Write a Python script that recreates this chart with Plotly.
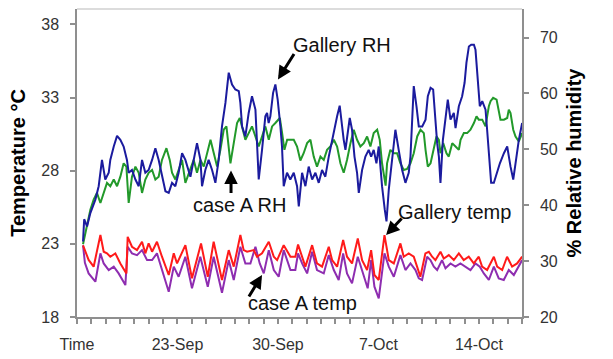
import plotly.graph_objects as go
import pandas as pd

START = pd.Timestamp("2008-09-16")

# ---- data (day offsets from 16-Sep, values) ----
gallery_rh_day = [0.42,0.50,0.70,0.93,1.28,1.51,1.74,1.97,2.21,2.32,2.56,2.79,3.02,3.25,3.48,3.60,3.83,4.07,4.30,4.53,
                  4.76,4.99,5.23,5.46,5.69,5.92,6.16,6.39,6.62,6.85,7.08,7.32,7.55,7.90,8.13,8.36,8.60,8.71,8.94,9.17,
                  9.41,9.64,9.87,10.10,10.34,10.57,10.80,11.03,11.27,11.38,11.50,11.73,11.96,12.19,12.43,12.54,12.66,12.89,13.12,13.24,
                  13.35,13.47,13.66,13.82,13.98,14.17,14.28,14.40,14.63,14.86,15.10,15.33,15.45,15.68,15.91,16.14,16.38,16.61,16.84,17.07,
                  17.30,17.54,17.77,18.00,18.12,18.30,18.47,18.58,18.70,18.86,19.00,19.16,19.33,19.51,19.63,19.86,20.09,20.32,20.49,20.67,
                  20.86,21.02,21.25,21.44,21.56,21.72,21.95,22.18,22.41,22.65,22.88,23.11,23.23,23.35,23.46,23.65,23.81,24.05,24.28,24.44,
                  24.63,24.81,24.93,25.09,25.21,25.32,25.49,25.67,25.83,26.02,26.25,26.37,26.60,26.83,27.00,27.13,27.30,27.46,27.65,27.76,
                  27.92,28.06,28.23,28.46,28.57,28.69,28.85,29.04,29.23,29.46,29.74,29.97,30.20,30.39,30.55,30.78,31.01]
gallery_rh = [33.5,37.5,36.2,38.6,41.0,43.4,48.1,44.6,45.8,48.1,50.5,52.4,51.7,50.5,48.1,45.8,46.3,44.6,43.4,48.1,
              45.8,46.3,48.1,50.2,48.1,45.1,42.5,42.2,44.0,43.4,45.8,49.3,48.1,45.1,48.1,51.1,48.1,43.4,46.3,48.1,
              46.3,44.0,48.1,54.1,58.3,63.7,61.6,60.7,60.4,58.3,54.1,52.3,56.5,59.5,57.1,49.9,44.6,49.9,55.9,56.5,
              54.7,55.9,60.1,61.6,58.9,54.1,50.5,43.4,45.8,44.6,45.8,43.4,39.8,45.8,43.4,46.9,44.6,45.8,44.0,46.3,
              45.1,48.7,51.7,54.1,55.9,57.8,53.5,51.7,49.9,52.9,55.6,53.5,48.7,45.8,42.2,46.3,48.7,49.9,48.7,49.9,
              47.5,50.5,43.4,39.2,37.1,42.8,48.7,53.5,49.9,46.3,44.0,45.8,48.7,56.5,61.3,57.7,54.1,54.1,55.3,59.5,
              61.0,60.7,55.9,51.1,48.7,44.0,51.7,55.9,58.9,55.3,56.5,53.8,57.7,59.5,61.9,65.5,68.4,68.7,68.7,67.8,
              63.1,57.7,58.6,57.1,53.5,48.7,44.0,44.0,45.8,47.5,49.3,50.5,46.9,44.6,47.5,51.7,54.7]

case_rh_day = [0.42,0.70,0.93,1.16,1.39,1.63,1.86,2.09,2.32,2.56,2.79,3.02,3.25,3.44,3.60,3.83,4.07,4.30,4.53,4.76,
               4.99,5.23,5.46,5.69,5.92,6.23,6.46,6.62,6.85,7.08,7.32,7.55,7.90,8.13,8.36,8.60,8.83,9.06,9.30,9.53,
               9.76,9.99,10.22,10.41,10.57,10.69,10.92,11.15,11.34,11.50,11.73,11.96,12.19,12.43,12.66,12.89,13.12,13.36,13.59,13.82,
               14.13,14.29,14.45,14.64,14.87,15.10,15.33,15.56,15.79,16.03,16.26,16.49,16.72,16.96,17.19,17.42,17.65,17.89,18.12,18.35,
               18.58,18.81,19.05,19.28,19.51,19.74,19.98,20.21,20.44,20.67,20.91,21.09,21.25,21.42,21.50,21.60,21.83,22.07,22.30,22.53,
               22.76,23.00,23.23,23.46,23.70,23.93,24.16,24.28,24.44,24.63,24.86,25.04,25.21,25.32,25.51,25.74,25.90,26.14,26.37,26.60,
               26.72,26.95,27.18,27.41,27.65,27.83,27.99,28.23,28.46,28.57,28.69,28.81,28.99,29.23,29.39,29.50,29.74,29.97,30.08,30.20,
               30.39,30.55,30.78,31.01]
case_rh = [33.0,36.2,39.2,41.0,42.2,40.4,42.2,44.0,43.4,44.6,43.4,45.1,47.5,46.9,40.4,45.1,46.9,45.8,42.2,44.6,
           45.8,46.3,44.6,45.1,48.1,50.2,48.1,45.8,44.6,46.3,48.1,44.0,46.3,48.1,45.8,48.1,46.9,49.3,51.7,49.3,
           46.9,49.9,53.5,54.1,50.5,47.5,51.1,54.7,55.6,54.1,51.7,52.9,54.1,52.3,50.5,52.3,54.1,51.7,54.1,54.7,
           55.6,52.9,49.9,51.7,51.7,51.7,50.5,48.0,49.3,51.1,51.7,48.7,46.9,48.7,48.1,49.9,50.5,51.7,50.5,47.5,
           45.8,48.1,51.1,53.5,51.7,50.5,51.1,52.3,50.5,52.9,53.5,51.7,47.5,45.1,43.5,47.5,49.9,49.3,49.3,47.5,
           46.3,46.5,47.5,49.3,52.3,53.5,52.9,49.9,46.9,47.5,50.5,52.3,51.7,49.3,51.1,49.3,48.7,51.1,50.5,49.9,
           51.7,52.9,52.9,53.5,54.7,55.9,55.3,55.3,54.1,55.9,57.7,58.6,59.2,58.9,56.5,55.3,55.3,55.6,57.1,56.5,
           53.5,52.3,51.4,52.9]

gallery_temp_day = [0.42,0.81,1.16,1.63,1.86,2.09,2.32,2.67,3.02,3.44,3.53,3.83,4.18,4.53,4.76,4.99,5.23,5.57,5.92,6.39,
                    6.74,6.97,7.55,8.01,8.64,9.11,9.52,10.10,10.57,10.92,11.38,11.61,11.85,12.31,12.54,12.89,13.36,13.71,13.94,14.40,
                    14.87,15.21,15.40,15.68,15.91,16.38,16.72,17.07,17.54,17.77,18.12,18.54,18.81,19.16,19.56,19.86,20.21,20.49,20.72,21.02,
                    21.42,21.72,22.07,22.53,22.76,23.11,23.46,23.69,23.92,24.27,24.51,24.74,24.97,25.32,25.55,25.90,26.25,26.60,26.94,27.29,
                    27.64,27.99,28.22,28.57,29.04,29.27,29.62,29.96,30.31,30.66,31.01]
gallery_temp = [22.9,21.9,21.44,23.6,22.46,22.35,22.12,22.35,21.66,20.98,23.48,22.80,22.57,23.14,22.35,23.03,22.46,23.14,22.12,20.87,
                22.35,21.66,22.91,20.64,23.03,20.75,23.14,20.53,22.57,21.44,23.6,22.57,22.46,22.57,22.12,22.35,23.14,22.12,21.89,22.91,
                22.12,22.12,22.95,22.12,21.44,22.91,21.66,21.44,22.80,21.89,21.44,23.26,22.12,21.66,23.37,21.89,21.21,22.57,20.87,20.53,
                23.60,21.89,21.66,23.03,22.12,22.35,22.12,21.44,20.75,22.35,22.46,22.12,21.89,22.46,22.00,22.23,21.89,22.35,21.89,22.12,
                21.66,22.12,21.44,21.21,22.12,21.44,21.21,22.12,21.44,21.66,22.12]

case_temp_day = [0.42,0.55,0.81,1.28,1.63,1.86,2.21,2.56,2.90,3.37,3.53,3.83,4.18,4.53,4.88,5.23,5.57,5.92,6.39,6.74,
                 7.08,7.55,8.01,8.59,9.11,9.52,10.10,10.57,10.92,11.38,11.73,12.08,12.43,12.73,13.01,13.36,13.71,14.05,14.40,14.87,
                 15.21,15.40,15.68,16.03,16.38,16.72,17.19,17.54,17.89,18.23,18.54,18.81,19.16,19.56,19.98,20.25,20.49,20.72,21.02,21.42,
                 21.72,22.07,22.53,22.88,23.23,23.58,23.81,24.04,24.39,24.62,24.86,25.09,25.43,25.67,26.02,26.36,26.71,27.06,27.41,27.76,
                 28.06,28.34,28.69,29.04,29.38,29.73,30.08,30.43,30.78,31.01]
case_temp = [22.9,21.7,20.98,20.41,22.35,21.66,21.21,21.44,20.98,20.18,22.80,22.35,22.23,22.57,21.89,21.89,22.35,21.21,19.73,21.44,
             20.75,22.12,19.96,22.12,20.07,22.12,19.66,21.89,20.53,22.80,21.66,21.66,22.80,21.66,20.98,22.57,21.21,20.75,22.57,21.21,
             21.21,22.35,21.66,20.98,22.46,21.21,20.98,22.23,21.21,20.53,22.35,20.98,20.30,22.12,20.75,19.96,21.89,20.07,19.27,22.35,
             21.44,20.75,22.23,21.21,21.66,21.21,20.64,20.53,22.12,21.89,21.44,21.21,21.89,21.33,21.66,21.44,21.66,21.44,21.21,21.66,
             21.44,20.98,20.53,21.44,20.64,20.53,21.21,20.87,21.44,21.89]

week_days = [0, 7, 14, 21, 28]
week_labels = ["Time", "23-Sep", "30-Sep", "7-Oct", "14-Oct"]
temp_ticks = [18, 23, 28, 33, 38]
rh_ticks = [20, 30, 40, 50, 60, 70]


def to_dates(days):
    return [START + pd.Timedelta(days=d) for d in days]


FONT = "Liberation Sans, Arial, sans-serif"
AXC = "#8f8f8f"
TXT = "#333333"

fig = go.Figure()
fig.add_trace(go.Scatter(x=to_dates(case_temp_day), y=case_temp, mode="lines",
                         line=dict(color="#8E2DB0", width=2), yaxis="y", name="case A temp"))
fig.add_trace(go.Scatter(x=to_dates(gallery_temp_day), y=gallery_temp, mode="lines",
                         line=dict(color="#FF1A1A", width=2), yaxis="y", name="Gallery temp"))
fig.add_trace(go.Scatter(x=to_dates(case_rh_day), y=case_rh, mode="lines",
                         line=dict(color="#22992A", width=2), yaxis="y2", name="case A RH"))
fig.add_trace(go.Scatter(x=to_dates(gallery_rh_day), y=gallery_rh, mode="lines",
                         line=dict(color="#1B1B9E", width=2), yaxis="y2", name="Gallery RH"))

xr = [START, START + pd.Timedelta(days=31)]
day_ticks = to_dates(range(0, 32))
yr = [18, 39.05]
y2r = [20, 75.1]

common_tick = dict(tickcolor=AXC, ticklen=5, tickwidth=1.5)

fig.update_layout(
    width=613, height=359, template="none",
    margin=dict(l=77, r=91, t=9, b=42),
    plot_bgcolor="white", paper_bgcolor="white",
    showlegend=False,
    font=dict(family=FONT, size=16, color=TXT),
    xaxis=dict(type="date", range=xr, tickvals=to_dates(week_days), ticktext=week_labels,
               ticks="outside", showgrid=False, zeroline=False, showline=True,
               linecolor=AXC, linewidth=1.5, tickfont=dict(size=16, color=TXT),
               ticklabelstandoff=7,
               minor=dict(tickvals=day_ticks, ticks="outside", ticklen=5, tickcolor=AXC, tickwidth=1.5, showgrid=False),
               **common_tick),
    xaxis2=dict(type="date", range=xr, overlaying="x", anchor="y", side="bottom",
                tickvals=day_ticks, ticks="inside", showticklabels=False, showgrid=False,
                zeroline=False, showline=False, **common_tick),
    yaxis=dict(range=yr, tickvals=temp_ticks, ticks="outside", showgrid=False, zeroline=False,
               showline=True, linecolor=AXC, linewidth=1.5, tickfont=dict(size=16, color=TXT),
               ticklabelstandoff=8,
               title=dict(text="<b>Temperature °C</b>", font=dict(size=20, color="#000"), standoff=10),
               **common_tick),
    yaxis2=dict(range=y2r, tickvals=rh_ticks, overlaying="y", side="right", anchor="x",
                ticks="outside", showgrid=False, zeroline=False, showline=True, linecolor=AXC,
                linewidth=1.5, tickfont=dict(size=16, color=TXT), ticklabelstandoff=8,
                title=dict(text="<b>% Relative humidity</b>", font=dict(size=20, color="#000"), standoff=10),
                **common_tick),
    yaxis3=dict(range=yr, tickvals=temp_ticks, overlaying="y", side="left", anchor="x",
                ticks="inside", showticklabels=False, showgrid=False, zeroline=False, showline=False,
                **common_tick),
    yaxis4=dict(range=y2r, tickvals=rh_ticks, overlaying="y", side="right", anchor="x",
                ticks="inside", showticklabels=False, showgrid=False, zeroline=False, showline=False,
                **common_tick),
)

# top border of plot box
fig.add_shape(type="line", xref="paper", yref="paper", x0=0, x1=1, y0=1, y1=1,
              line=dict(color="#d0d0d0", width=1.5))


def day(d):
    return START + pd.Timedelta(days=d)


ann_font = dict(family=FONT, size=20, color="#111")
# text labels
fig.add_annotation(x=day(18.47), y=68.7, yref="y2", text="Gallery RH", showarrow=False, font=ann_font)
fig.add_annotation(x=day(11.29), y=40.1, yref="y2", text="case A RH", showarrow=False, font=ann_font)
fig.add_annotation(x=day(26.27), y=38.8, yref="y2", text="Gallery temp", showarrow=False, font=ann_font)
fig.add_annotation(x=day(15.68), y=18.96, yref="y", text="case A temp", showarrow=False, font=ann_font)
# arrows
arrow = dict(showarrow=True, arrowhead=2, arrowsize=0.9, arrowwidth=3, arrowcolor="#000", text="", standoff=0)
fig.add_annotation(x=day(14.0), y=62.5, yref="y2", ax=17, ay=-27, **arrow)
fig.add_annotation(x=day(10.73), y=46.2, yref="y2", ax=0, ay=24, **arrow)
fig.add_annotation(x=day(21.53), y=23.6, yref="y", ax=17, ay=-18, **arrow)
fig.add_annotation(x=day(12.89), y=20.87, yref="y", ax=-14, ay=23, **arrow)

fig.write_html("out.html", config={"displayModeBar": False},
               post_script="document.body.style.margin='0';document.body.style.overflow='hidden';")
